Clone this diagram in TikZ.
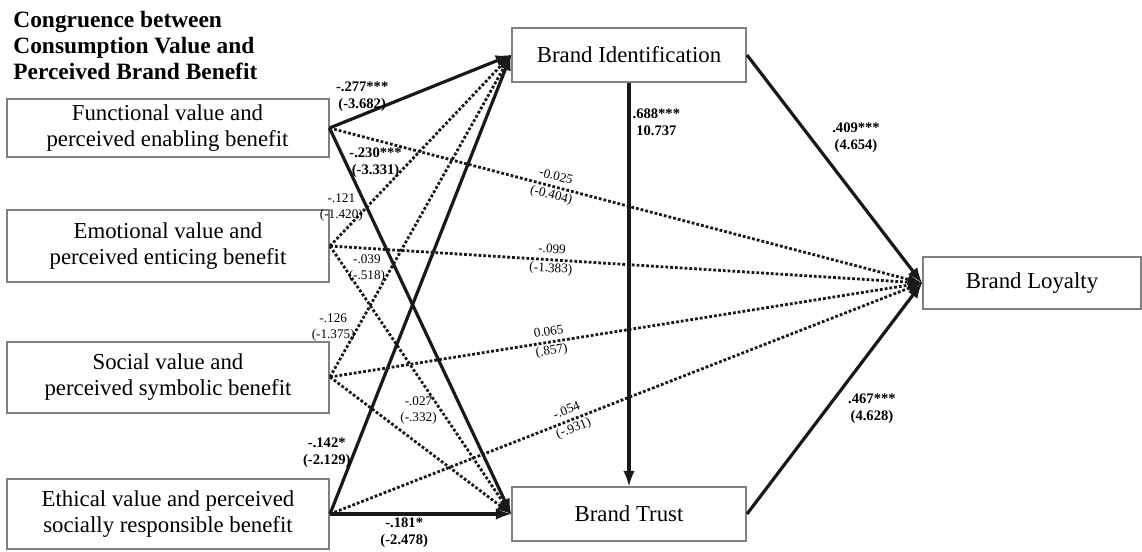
\documentclass[tikz,border=0pt]{standalone}
\usepackage{fontspec}
\setmainfont{Liberation Serif}
\usetikzlibrary{positioning}
\definecolor{boxgray}{RGB}{128,128,128}
\definecolor{ink}{RGB}{25,25,25}

\begin{document}
\begin{tikzpicture}[x=0.5pt, y=-0.5pt,
    value node/.style={draw=boxgray, line width=1pt, minimum width=161pt, align=center,
                       inner sep=2pt, font=\fontsize{11.4}{13}\selectfont},
    brand node/.style={draw=boxgray, line width=1pt, minimum width=117pt, minimum height=27pt,
                       font=\fontsize{11.4}{13}\selectfont},
    sig path/.style={draw=ink, -latex, line width=1.6pt},
    ns path/.style={draw=ink, -latex, line width=1.4pt, dash pattern=on 1.4pt off 1pt},
    bold label/.style={font=\fontsize{7.3}{8.5}\selectfont\bfseries, align=center, inner sep=1pt},
    plain label/.style={font=\fontsize{6.6}{8}\selectfont, align=center, inner sep=1pt},
    slope label/.style={plain label, sloped, font=\fontsize{6.6}{9.5}\selectfont}]

  \useasboundingbox (0,0) rectangle (1142,552);

  \node[anchor=north west, inner sep=0pt, align=left,
        font=\fontsize{11.7}{13}\selectfont\bfseries] (0) at (13,11)
        {Congruence between\\Consumption Value and\\Perceived Brand Benefit};

  \node[value node, minimum height=29pt] (1) at (167.5,128) {Functional value and\\perceived enabling benefit};
  \node[value node, minimum height=36pt] (2) at (168,246) {Emotional value and\\perceived enticing benefit};
  \node[value node, minimum height=35.5pt] (3) at (168,377) {Social value and\\perceived symbolic benefit};
  \node[value node, minimum height=35pt] (4) at (168,514) {Ethical value and perceived\\socially responsible benefit};

  \node[brand node] (5) at (629,55) {Brand Identification};
  \node[brand node] (6) at (629,514) {Brand Trust};
  \node[brand node, minimum width=109pt, minimum height=26pt] (7) at (1032,283) {Brand Loyalty};

  % paths from the four congruence boxes
  \path (1.east) edge[sig path] node[bold label, pos=0.18, above] {-.277***\\(-3.682)} (5.west)
                 edge[sig path] node[bold label, pos=0.09, right] {-.230***\\(-3.331)} (6.west)
                 edge[ns path] node[slope label, pos=0.378] {-0.025\\(-0.404)} (7.west)
        (2.east) edge[ns path] node[plain label, pos=0.2, left] {-.121\\(-1.420)} (5.west)
                 edge[ns path] node[plain label, pos=0.085, right] {-.039\\(-.518)} (6.west)
                 edge[ns path] node[slope label, pos=0.374] {-.099\\(-1.383)} (7.west)
        (3.east) edge[ns path] node[plain label, pos=0.155, left] {-.126\\(-1.375)} (5.west)
                 edge[ns path] node[plain label, pos=0.37, above right] {-.027\\(-.332)} (6.west)
                 edge[ns path] node[slope label, pos=0.372] {0.065\\(.857)} (7.west)
        (4.east) edge[sig path] node[bold label, pos=0.133, left] {-.142*\\(-2.129)} (5.west)
                 edge[sig path] node[bold label, pos=0.41, below] {-.181*\\(-2.478)} (6.west)
                 edge[ns path] node[slope label, pos=0.406] {-.054\\(-.931)} (7.west);

  % brand identification, trust and loyalty
  \path (5.south) edge[sig path] node[bold label, pos=0.098, right] {.688***\\10.737} (6.north)
        (5.east) edge[sig path] node[bold label, pos=0.364, right=9pt] {.409***\\(4.654)} (7.west)
        (6.east) edge[sig path] node[bold label, pos=0.455, right=9pt] {.467***\\(4.628)} (7.west);
\end{tikzpicture}
\end{document}
